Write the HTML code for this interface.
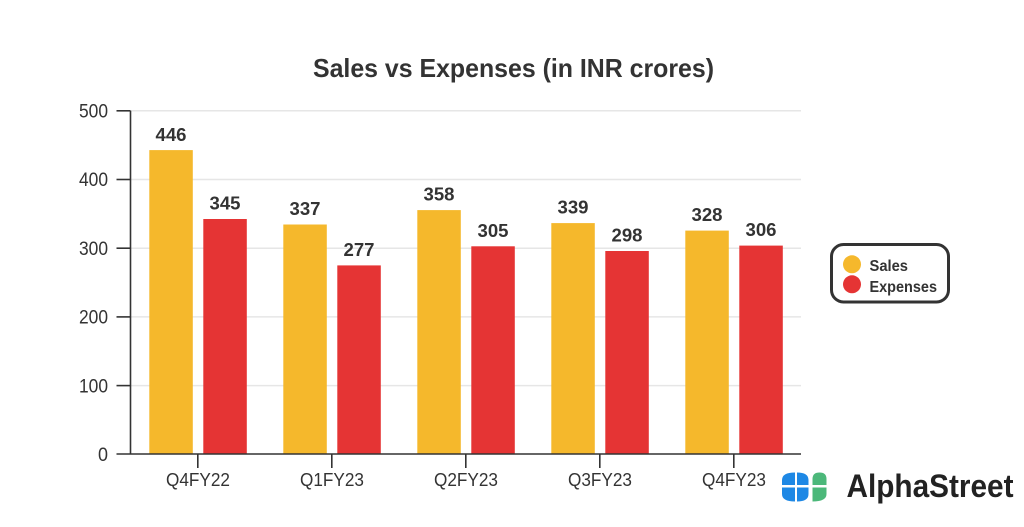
<!DOCTYPE html>
<html><head><meta charset="utf-8"><style>
html,body{margin:0;padding:0;background:#fff;}
svg{display:block;}
text{font-family:"Liberation Sans",sans-serif;}
</style></head><body>
<svg width="1024" height="527" viewBox="0 0 1024 527" xmlns="http://www.w3.org/2000/svg">
<rect width="1024" height="527" fill="#fff"/>
<!-- title -->
<text x="313" y="77" font-size="26" font-weight="bold" fill="#333" textLength="401" lengthAdjust="spacingAndGlyphs">Sales vs Expenses (in INR crores)</text>
<!-- gridlines -->
<g stroke="#e6e6e6" stroke-width="1.5">
<line x1="131" y1="110.8" x2="801" y2="110.8"/>
<line x1="131" y1="179.5" x2="801" y2="179.5"/>
<line x1="131" y1="248.2" x2="801" y2="248.2"/>
<line x1="131" y1="316.9" x2="801" y2="316.9"/>
<line x1="131" y1="385.6" x2="801" y2="385.6"/>
</g>
<!-- bars -->
<g>
<rect x="149.3" y="150.1" width="43.5" height="304.2" fill="#F5B82C"/>
<rect x="203.3" y="219" width="43.5" height="235.3" fill="#E53434"/>
<rect x="283.3" y="224.5" width="43.5" height="229.8" fill="#F5B82C"/>
<rect x="337.3" y="265.4" width="43.5" height="188.9" fill="#E53434"/>
<rect x="417.3" y="210.1" width="43.5" height="244.2" fill="#F5B82C"/>
<rect x="471.3" y="246.3" width="43.5" height="208" fill="#E53434"/>
<rect x="551.3" y="223.1" width="43.5" height="231.2" fill="#F5B82C"/>
<rect x="605.3" y="251" width="43.5" height="203.3" fill="#E53434"/>
<rect x="685.3" y="230.6" width="43.5" height="223.7" fill="#F5B82C"/>
<rect x="739.3" y="245.6" width="43.5" height="208.7" fill="#E53434"/>
</g>
<!-- value labels -->
<g font-size="18.5" font-weight="bold" fill="#333" text-anchor="middle">
<text x="171" y="141" textLength="31" lengthAdjust="spacingAndGlyphs">446</text>
<text x="225" y="209.5" textLength="31" lengthAdjust="spacingAndGlyphs">345</text>
<text x="305" y="215" textLength="31" lengthAdjust="spacingAndGlyphs">337</text>
<text x="359" y="256" textLength="31" lengthAdjust="spacingAndGlyphs">277</text>
<text x="439" y="200.5" textLength="31" lengthAdjust="spacingAndGlyphs">358</text>
<text x="493" y="237" textLength="31" lengthAdjust="spacingAndGlyphs">305</text>
<text x="573" y="213.5" textLength="31" lengthAdjust="spacingAndGlyphs">339</text>
<text x="627" y="241.5" textLength="31" lengthAdjust="spacingAndGlyphs">298</text>
<text x="707" y="221" textLength="31" lengthAdjust="spacingAndGlyphs">328</text>
<text x="761" y="236" textLength="31" lengthAdjust="spacingAndGlyphs">306</text>
</g>
<!-- axes -->
<g stroke="#333" stroke-width="1.6" fill="none">
<line x1="130.5" y1="110.8" x2="130.5" y2="454"/>
<line x1="116.5" y1="454" x2="801" y2="454"/>
<line x1="116.5" y1="110.8" x2="130.5" y2="110.8"/>
<line x1="116.5" y1="179.5" x2="130.5" y2="179.5"/>
<line x1="116.5" y1="248.2" x2="130.5" y2="248.2"/>
<line x1="116.5" y1="316.9" x2="130.5" y2="316.9"/>
<line x1="116.5" y1="385.6" x2="130.5" y2="385.6"/>
<line x1="197.8" y1="454" x2="197.8" y2="468"/>
<line x1="331.8" y1="454" x2="331.8" y2="468"/>
<line x1="465.8" y1="454" x2="465.8" y2="468"/>
<line x1="599.8" y1="454" x2="599.8" y2="468"/>
<line x1="733.8" y1="454" x2="733.8" y2="468"/>
</g>
<!-- y tick labels -->
<g font-size="19" fill="#333" text-anchor="end">
<text x="108" y="117.5" textLength="29" lengthAdjust="spacingAndGlyphs">500</text>
<text x="108" y="186.2" textLength="29" lengthAdjust="spacingAndGlyphs">400</text>
<text x="108" y="254.9" textLength="29" lengthAdjust="spacingAndGlyphs">300</text>
<text x="108" y="323.6" textLength="29" lengthAdjust="spacingAndGlyphs">200</text>
<text x="108" y="392.3" textLength="29" lengthAdjust="spacingAndGlyphs">100</text>
<text x="108" y="461" textLength="10" lengthAdjust="spacingAndGlyphs">0</text>
</g>
<!-- x tick labels -->
<g font-size="18" fill="#333" text-anchor="middle">
<text x="198" y="486" textLength="64" lengthAdjust="spacingAndGlyphs">Q4FY22</text>
<text x="332" y="486" textLength="64" lengthAdjust="spacingAndGlyphs">Q1FY23</text>
<text x="466" y="486" textLength="64" lengthAdjust="spacingAndGlyphs">Q2FY23</text>
<text x="600" y="486" textLength="64" lengthAdjust="spacingAndGlyphs">Q3FY23</text>
<text x="734" y="486" textLength="64" lengthAdjust="spacingAndGlyphs">Q4FY23</text>
</g>
<!-- legend -->
<rect x="831.5" y="244.5" width="117" height="57.5" rx="12" ry="12" fill="#fff" stroke="#333" stroke-width="3"/>
<circle cx="852" cy="264.3" r="9" fill="#F5B82C"/>
<circle cx="852" cy="284.3" r="9" fill="#E53434"/>
<g font-size="16" font-weight="bold" fill="#333">
<text x="869.5" y="271" textLength="38.5" lengthAdjust="spacingAndGlyphs">Sales</text>
<text x="869.5" y="292" textLength="67.5" lengthAdjust="spacingAndGlyphs">Expenses</text>
</g>
<!-- logo -->
<g>
<path d="M782 485 L782 480 Q782 472.5 795 472.5 L795 485 Z" fill="#1E88E5"/>
<path d="M797 472.5 Q808.5 472.5 808.5 480 L808.5 485 L797 485 Z" fill="#1E88E5"/>
<path d="M782 487.5 L795 487.5 L795 501.5 Q782 501.5 782 494 Z" fill="#1E88E5"/>
<path d="M797 487.5 L808.5 487.5 L808.5 494 Q808.5 501.5 797 501.5 Z" fill="#1E88E5"/>
<path d="M812.5 485 L812.5 479 Q812.5 472.5 819.5 472.5 Q826.5 472.5 826.5 479 L826.5 485 Z" fill="#4CB87A"/>
<path d="M812.5 487.5 L826.5 487.5 L826.5 494 Q826.5 501.5 812.5 501.5 Z" fill="#4CB87A"/>
</g>
<text x="846.5" y="497" font-size="32" font-weight="bold" fill="#222" textLength="167" lengthAdjust="spacingAndGlyphs">AlphaStreet</text>
</svg>
</body></html>
